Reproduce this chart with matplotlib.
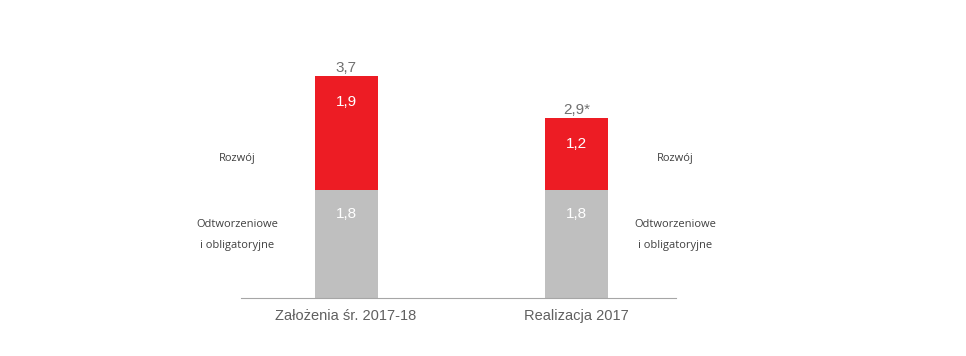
import matplotlib
matplotlib.use("Agg")
import matplotlib.pyplot as plt

categories = ["Założenia śr. 2017-18", "Realizacja 2017"]
base_vals = [1.8, 1.8]
dev_vals = [1.9, 1.2]
total_labels = ["3,7", "2,9*"]
base_name = ["Odtworzeniowe", "i obligatoryjne"]
dev_name = "Rozwój"

RED = "#ED1C24"
GREY = "#BFBFBF"

plt.rcParams["font.family"] = ["Liberation Sans", "DejaVu Sans"]

fig = plt.figure(figsize=(9.66, 3.56), dpi=100)
ax = fig.add_axes([241 / 966, 58 / 356, 435 / 966, 267 / 356])

x = list(range(len(categories)))
width = 0.273
ax.bar(x, base_vals, width, color=GREY)
ax.bar(x, dev_vals, width, bottom=base_vals, color=RED)

def fmt(v):
    return f"{v:.1f}".replace(".", ",")

for i in x:
    ax.annotate(fmt(base_vals[i]), (i, base_vals[i]), xytext=(0, -17),
                textcoords="offset points", ha="center", va="center",
                color="white", fontsize=11)
    top = base_vals[i] + dev_vals[i]
    ax.annotate(fmt(dev_vals[i]), (i, top), xytext=(0, -19),
                textcoords="offset points", ha="center", va="center",
                color="white", fontsize=11)
    ax.annotate(total_labels[i], (i, top), xytext=(0, 1),
                textcoords="offset points", ha="center", va="bottom",
                color="#707070", fontsize=11)

# series names beside the bars
side_font = ["Open Sans", "DejaVu Sans"]
for xs in (-0.47, 1.425):
    ax.text(xs, 2.32, dev_name, ha="center", va="center", fontsize=8,
            color="#404040", family=side_font)
    ax.text(xs, 1.22, base_name[0], ha="center", va="center", fontsize=8,
            color="#404040", family=side_font)
    ax.text(xs, 0.87, base_name[1], ha="center", va="center", fontsize=8,
            color="#404040", family=side_font)

ax.set_xlim(-0.455, 1.43)
ax.set_ylim(0, 4.45)
ax.set_xticks(x)
ax.set_xticklabels(categories, fontsize=10.5, color="#606060")
ax.tick_params(axis="x", length=0, pad=8)
ax.set_yticks([])
for s in ("top", "right", "left"):
    ax.spines[s].set_visible(False)
ax.spines["bottom"].set_color("#A6A6A6")
ax.patch.set_alpha(0)

fig.savefig("out.png", dpi=100)
